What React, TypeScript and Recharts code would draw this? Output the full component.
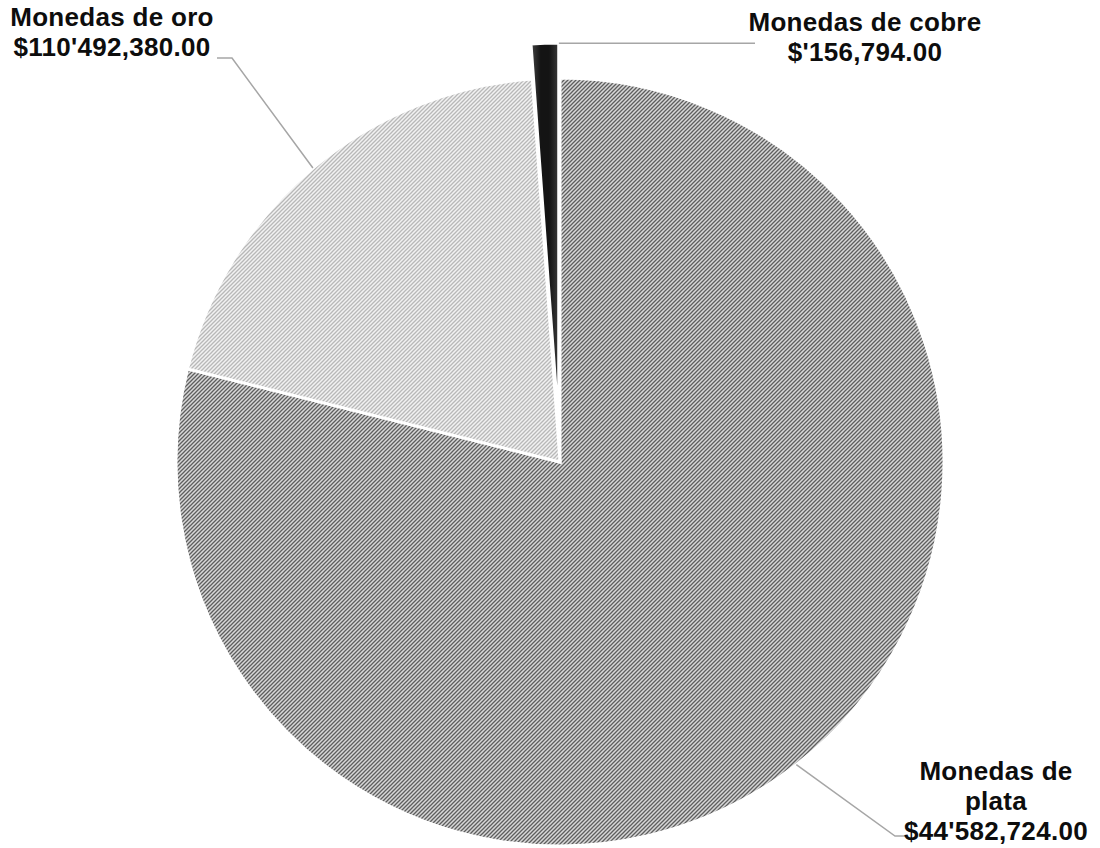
import React from 'react';
import { PieChart, Pie, Cell } from 'recharts';

// slice shares (percent of the full circle)
const names = ['Monedas de plata', 'Monedas de oro', 'Monedas de cobre'];
const shares = [78.9, 19.95, 1.15];
const amountLabels = ["$44'582,724.00", "$110'492,380.00", "$'156,794.00"];
const nameLines = [['Monedas de', 'plata'], ['Monedas de oro'], ['Monedas de cobre']];

const data = names.map((name, i) => ({ name, value: shares[i] }));

const CX = 560;
const CY = 462;
const RADIUS = 384;
const EXPLODE = 35;
const RAD = Math.PI / 180;

// copper slice is pulled out along its bisector
const total = shares.reduce((a, b) => a + b, 0);
const copperMid = 90 - (360 * (shares[0] + shares[1] + shares[2] / 2)) / total;
const EX = CX + EXPLODE * Math.cos(copperMid * RAD);
const EY = CY - EXPLODE * Math.sin(copperMid * RAD);

const fills = ['url(#hatchPlata)', 'url(#hatchOro)', 'url(#gradCobre)'];

// label placement (layout only)
const labelLayout = [
  { x: 996, y: 780, elbow: [895, 836], end: 906, startDx: 0 },
  { x: 112, y: 26, elbow: [232, 58], end: 217, startDx: 0 },
  { x: 865, y: 31, elbow: null, end: 755, startDx: 14 },
];

const LINE_H = 30;

const makeLabel = (allowed: number[]) => (props: any) => {
  const { cx, cy, midAngle, outerRadius, index } = props;
  if (!allowed.includes(index)) return null;
  const lay = labelLayout[index];
  const sx = cx + outerRadius * Math.cos(-midAngle * RAD) + lay.startDx;
  const sy = cy + outerRadius * Math.sin(-midAngle * RAD);
  let d = `M${sx},${sy}`;
  if (lay.elbow) {
    d += ` L${lay.elbow[0]},${lay.elbow[1]} L${lay.end},${lay.elbow[1]}`;
  } else {
    d += ` L${lay.end},${sy}`;
  }
  const lines = [...nameLines[index], amountLabels[index]];
  return (
    <g key={`lbl-${index}`}>
      <path d={d} stroke="#a6a6a6" strokeWidth={1.5} fill="none" />
      <text
        x={lay.x}
        y={lay.y}
        textAnchor="middle"
        fontFamily="'Liberation Sans', Arial, sans-serif"
        fontWeight="bold"
        fontSize={26}
        letterSpacing={0.3}
        fill="#0d0d0d"
      >
        {lines.map((t, k) => (
          <tspan key={k} x={lay.x} y={lay.y + k * LINE_H}>
            {t}
          </tspan>
        ))}
      </text>
    </g>
  );
};

export default function App() {
  return (
    <div style={{ position: 'absolute', left: 0, top: 0, width: 1100, height: 848, background: '#fff' }}>
      <PieChart width={1100} height={848} margin={{ top: 0, right: 0, bottom: 0, left: 0 }}>
        <defs>
          <pattern id="hatchPlata" patternUnits="userSpaceOnUse" width={4} height={4}>
            <rect width={4} height={4} fill="#d8d8d8" />
            <path d="M-1,1 L1,-1 M0,4 L4,0 M3,5 L5,3" stroke="#5e5e5e" strokeWidth={1.3} />
          </pattern>
          <pattern id="hatchOro" patternUnits="userSpaceOnUse" width={4} height={4}>
            <rect width={4} height={4} fill="#f2f2f2" />
            <path d="M-1,1 L1,-1 M0,4 L4,0 M3,5 L5,3" stroke="#b8b8b8" strokeWidth={1.3} />
          </pattern>
          <linearGradient id="gradCobre" x1="0" y1="0" x2="1" y2="0">
            <stop offset="0%" stopColor="#444444" />
            <stop offset="35%" stopColor="#141414" />
            <stop offset="65%" stopColor="#141414" />
            <stop offset="100%" stopColor="#3a3a3a" />
          </linearGradient>
        </defs>
        <Pie
          data={data}
          dataKey="value"
          nameKey="name"
          cx={CX}
          cy={CY}
          outerRadius={RADIUS}
          startAngle={90}
          endAngle={-270}
          stroke="#ffffff"
          strokeWidth={3}
          labelLine={false}
          label={makeLabel([0, 1])}
          isAnimationActive={false}
        >
          {data.map((d, i) => (
            <Cell
              key={d.name}
              fill={i === 2 ? 'none' : fills[i]}
              stroke={i === 2 ? 'none' : '#ffffff'}
            />
          ))}
        </Pie>
        <Pie
          data={data}
          dataKey="value"
          nameKey="name"
          cx={EX}
          cy={EY}
          outerRadius={RADIUS}
          startAngle={90}
          endAngle={-270}
          stroke="#ffffff"
          strokeWidth={3}
          labelLine={false}
          label={makeLabel([2])}
          isAnimationActive={false}
        >
          {data.map((d, i) => (
            <Cell
              key={d.name}
              fill={i === 2 ? fills[i] : 'none'}
              stroke={i === 2 ? '#ffffff' : 'none'}
            />
          ))}
        </Pie>
      </PieChart>
    </div>
  );
}
